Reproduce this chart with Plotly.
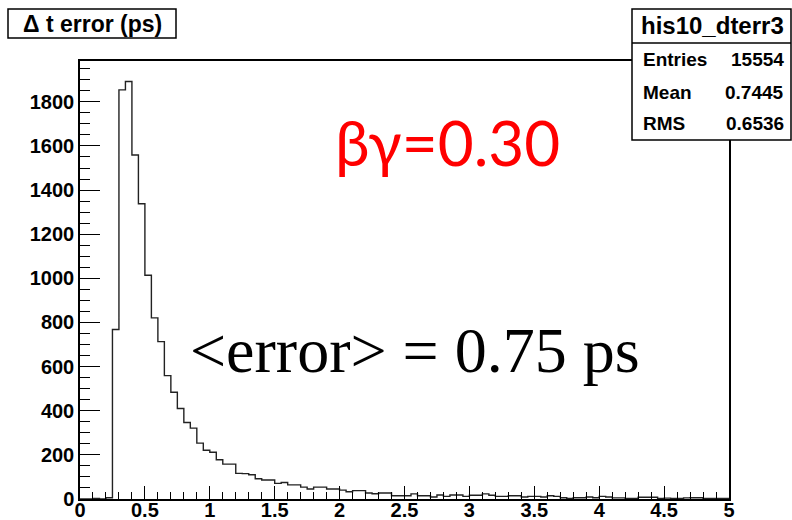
import plotly.graph_objects as go

# ---- data ----
bin_low = 0.0
bin_width = 0.05
counts = [
    0, 0, 3, 0, 6, 768, 1854, 1892, 1559, 1338,
    1014, 821, 713, 559, 484, 410, 347, 321, 253, 221,
    212, 178, 158, 158, 116, 115, 110, 92, 86, 86,
    71, 75, 64, 64, 54, 45, 54, 54, 45, 45,
    40, 33, 38, 38, 27, 24, 27, 27, 15, 15,
    15, 23, 15, 15, 9, 18, 12, 18, 18, 12,
    17, 17, 23, 17, 12, 12, 15, 15, 9, 12,
    12, 9, 15, 12, 6, 3, 6, 6, 9, 6,
    12, 9, 5, 5, 3, 3, 8, 8, 8, 3,
    4, 3, 2, 5, 6, 6, 3, 3, 2, 3,
]
x_tick_vals = [0, 0.5, 1, 1.5, 2, 2.5, 3, 3.5, 4, 4.5, 5]
x_tick_labels = ["0", "0.5", "1", "1.5", "2", "2.5", "3", "3.5", "4", "4.5", "5"]
y_tick_vals = [0, 200, 400, 600, 800, 1000, 1200, 1400, 1600, 1800]
y_tick_labels = ["0", "200", "400", "600", "800", "1000", "1200", "1400", "1600", "1800"]
hist_title = "Δ t error (ps)"
stats_name = "his10_dterr3"
stats_labels = ["Entries", "Mean", "RMS"]
stats_values = ["15554", "0.7445", "0.6536"]
note_red = "βγ=0.30"
note_black = "&lt;error&gt; = 0.75 ps"

# ---- step outline ----
n = len(counts)
edges = [bin_low + i * bin_width for i in range(n + 1)]
xs = [edges[0]] + edges[:-1] + [edges[-1], edges[-1]]
ys = [0] + counts + [counts[-1], 0]

W, H = 792, 520
L, R, T, B = 80, 729, 61, 499


def px(x):
    return (x - L) / (R - L)


def py(y):
    return (B - y) / (B - T)


fig = go.Figure()
fig.add_trace(go.Scatter(x=xs, y=ys, mode="lines",
                         line=dict(shape="hv", color="#222222", width=1.4),
                         hoverinfo="skip", showlegend=False))

tickfont = dict(family="Liberation Sans", size=20, color="black", weight="bold")

fig.update_layout(
    template="none",
    width=W, height=H,
    margin=dict(l=L, r=W - R, t=T, b=H - B, pad=0),
    paper_bgcolor="white", plot_bgcolor="white",
    showlegend=False,
    xaxis=dict(range=[0, 5], tickmode="array", tickvals=x_tick_vals, ticktext=x_tick_labels,
               ticks="inside", ticklen=13, tickwidth=1.2, tickcolor="black",
               minor=dict(dtick=0.1, tick0=0, ticks="inside", ticklen=7, tickwidth=1.2, tickcolor="black"),
               showline=True, linecolor="black", linewidth=1.5, mirror=True,
               showgrid=False, zeroline=False, automargin=False, tickfont=tickfont,
               ticklabelstandoff=-8),
    yaxis=dict(range=[0, 1985], tickmode="array", tickvals=y_tick_vals, ticktext=y_tick_labels,
               ticks="inside", ticklen=20, tickwidth=1.2, tickcolor="black",
               minor=dict(dtick=50, tick0=0, ticks="inside", ticklen=10, tickwidth=1.2, tickcolor="black"),
               showline=True, linecolor="black", linewidth=1.5, mirror=True,
               showgrid=False, zeroline=False, automargin=False, tickfont=tickfont),
)

shapes = [
    # title box
    dict(type="rect", xref="paper", yref="paper", x0=px(8), x1=px(176), y0=py(38), y1=py(9),
         line=dict(color="black", width=1.5), fillcolor="white", layer="above"),
    # stats box
    dict(type="rect", xref="paper", yref="paper", x0=px(632), x1=px(791), y0=py(140), y1=py(9),
         line=dict(color="black", width=1.5), fillcolor="white", layer="above"),
    dict(type="line", xref="paper", yref="paper", x0=px(632), x1=px(791), y0=py(43), y1=py(43),
         line=dict(color="black", width=1.5), layer="above"),
]
fig.update_layout(shapes=shapes)

bold = dict(family="Liberation Sans", color="black", weight="bold")
ann = [
    dict(text=hist_title, x=px(92), y=py(24), xanchor="center", yanchor="middle",
         font=dict(size=23, **bold)),
    dict(text=stats_name, x=px(712), y=py(26), xanchor="center", yanchor="middle",
         font=dict(size=24, **bold)),
]
row_y = [60, 92, 123]
for lab, val, yy in zip(stats_labels, stats_values, row_y):
    ann.append(dict(text=lab, x=px(641), y=py(yy), xanchor="left", yanchor="middle",
                    font=dict(size=19, **bold)))
    ann.append(dict(text=val, x=px(786), y=py(yy), xanchor="right", yanchor="middle",
                    font=dict(size=19, **bold)))
ann.append(dict(text=note_red, x=px(447), y=py(142), xanchor="center", yanchor="middle",
                font=dict(family="Lato", size=62, color="#ff0000")))
ann.append(dict(text=note_black, x=px(415), y=py(350), xanchor="center", yanchor="middle",
                font=dict(family="Liberation Serif", size=64, color="black")))
for a in ann:
    a.update(xref="paper", yref="paper", showarrow=False)
fig.update_layout(annotations=ann)

fig.write_html("out.html")
